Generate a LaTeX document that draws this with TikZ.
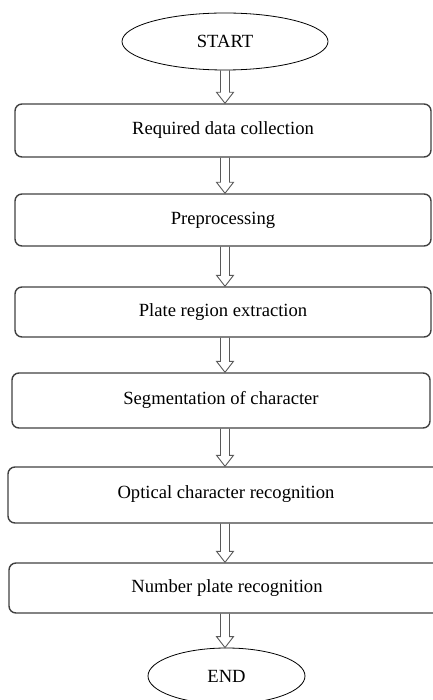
\documentclass[tikz,border=0pt]{standalone}
\usepackage{fontspec}
\setmainfont{Liberation Serif}
\usetikzlibrary{calc,shapes.geometric}
\begin{document}
\begin{tikzpicture}[x=1pt,y=1pt,
  every node/.style={font=\fontsize{18.6}{21}\selectfont, inner sep=0pt},
  terminal/.style={ellipse, draw=black, line width=0.8pt},
  stepbox/.style={draw=black!75, line width=1.4pt, rounded corners=7pt},
  harrow/.style={draw=black!65, line width=0.9pt, line join=miter}]
\useasboundingbox (0,0) rectangle (432,-700);
\coordinate (axis) at (225,0);
\node[terminal, minimum width=206, minimum height=57] (start) at (225,-41.5) {START};
\node[stepbox, minimum width=416, minimum height=53] (b1) at (223,-130.5) {Required data collection};
\node[stepbox, minimum width=416, minimum height=52] (b2) at (223,-220) {Preprocessing};
\node[stepbox, minimum width=416, minimum height=50] (b3) at (223,-312) {Plate region extraction};
\node[stepbox, minimum width=418, minimum height=55] (b4) at (221,-400.5) {\raisebox{5pt}{Segmentation of character}};
\node[stepbox, minimum width=436, minimum height=56] (b5) at (226,-495) {\raisebox{5pt}{Optical character recognition}};
\node[stepbox, minimum width=436, minimum height=50] (b6) at (227,-588) {Number plate recognition};
\node[terminal, minimum width=157, minimum height=56] (end) at (226.5,-676) {END};
\newcommand\hollowarr[2]{%
  \draw[harrow] ($(#1.south -| axis)+(-4.5,0)$) -- ($(#2.north -| axis)+(-4.5,11)$) -- ++(-4,0)
    -- (#2.north -| axis) -- ($(#2.north -| axis)+(8.5,11)$) -- ++(-4,0)
    -- ($(#1.south -| axis)+(4.5,0)$);}
\hollowarr{start}{b1}
\hollowarr{b1}{b2}
\hollowarr{b2}{b3}
\hollowarr{b3}{b4}
\hollowarr{b4}{b5}
\hollowarr{b5}{b6}
\hollowarr{b6}{end}
\end{tikzpicture}
\end{document}
